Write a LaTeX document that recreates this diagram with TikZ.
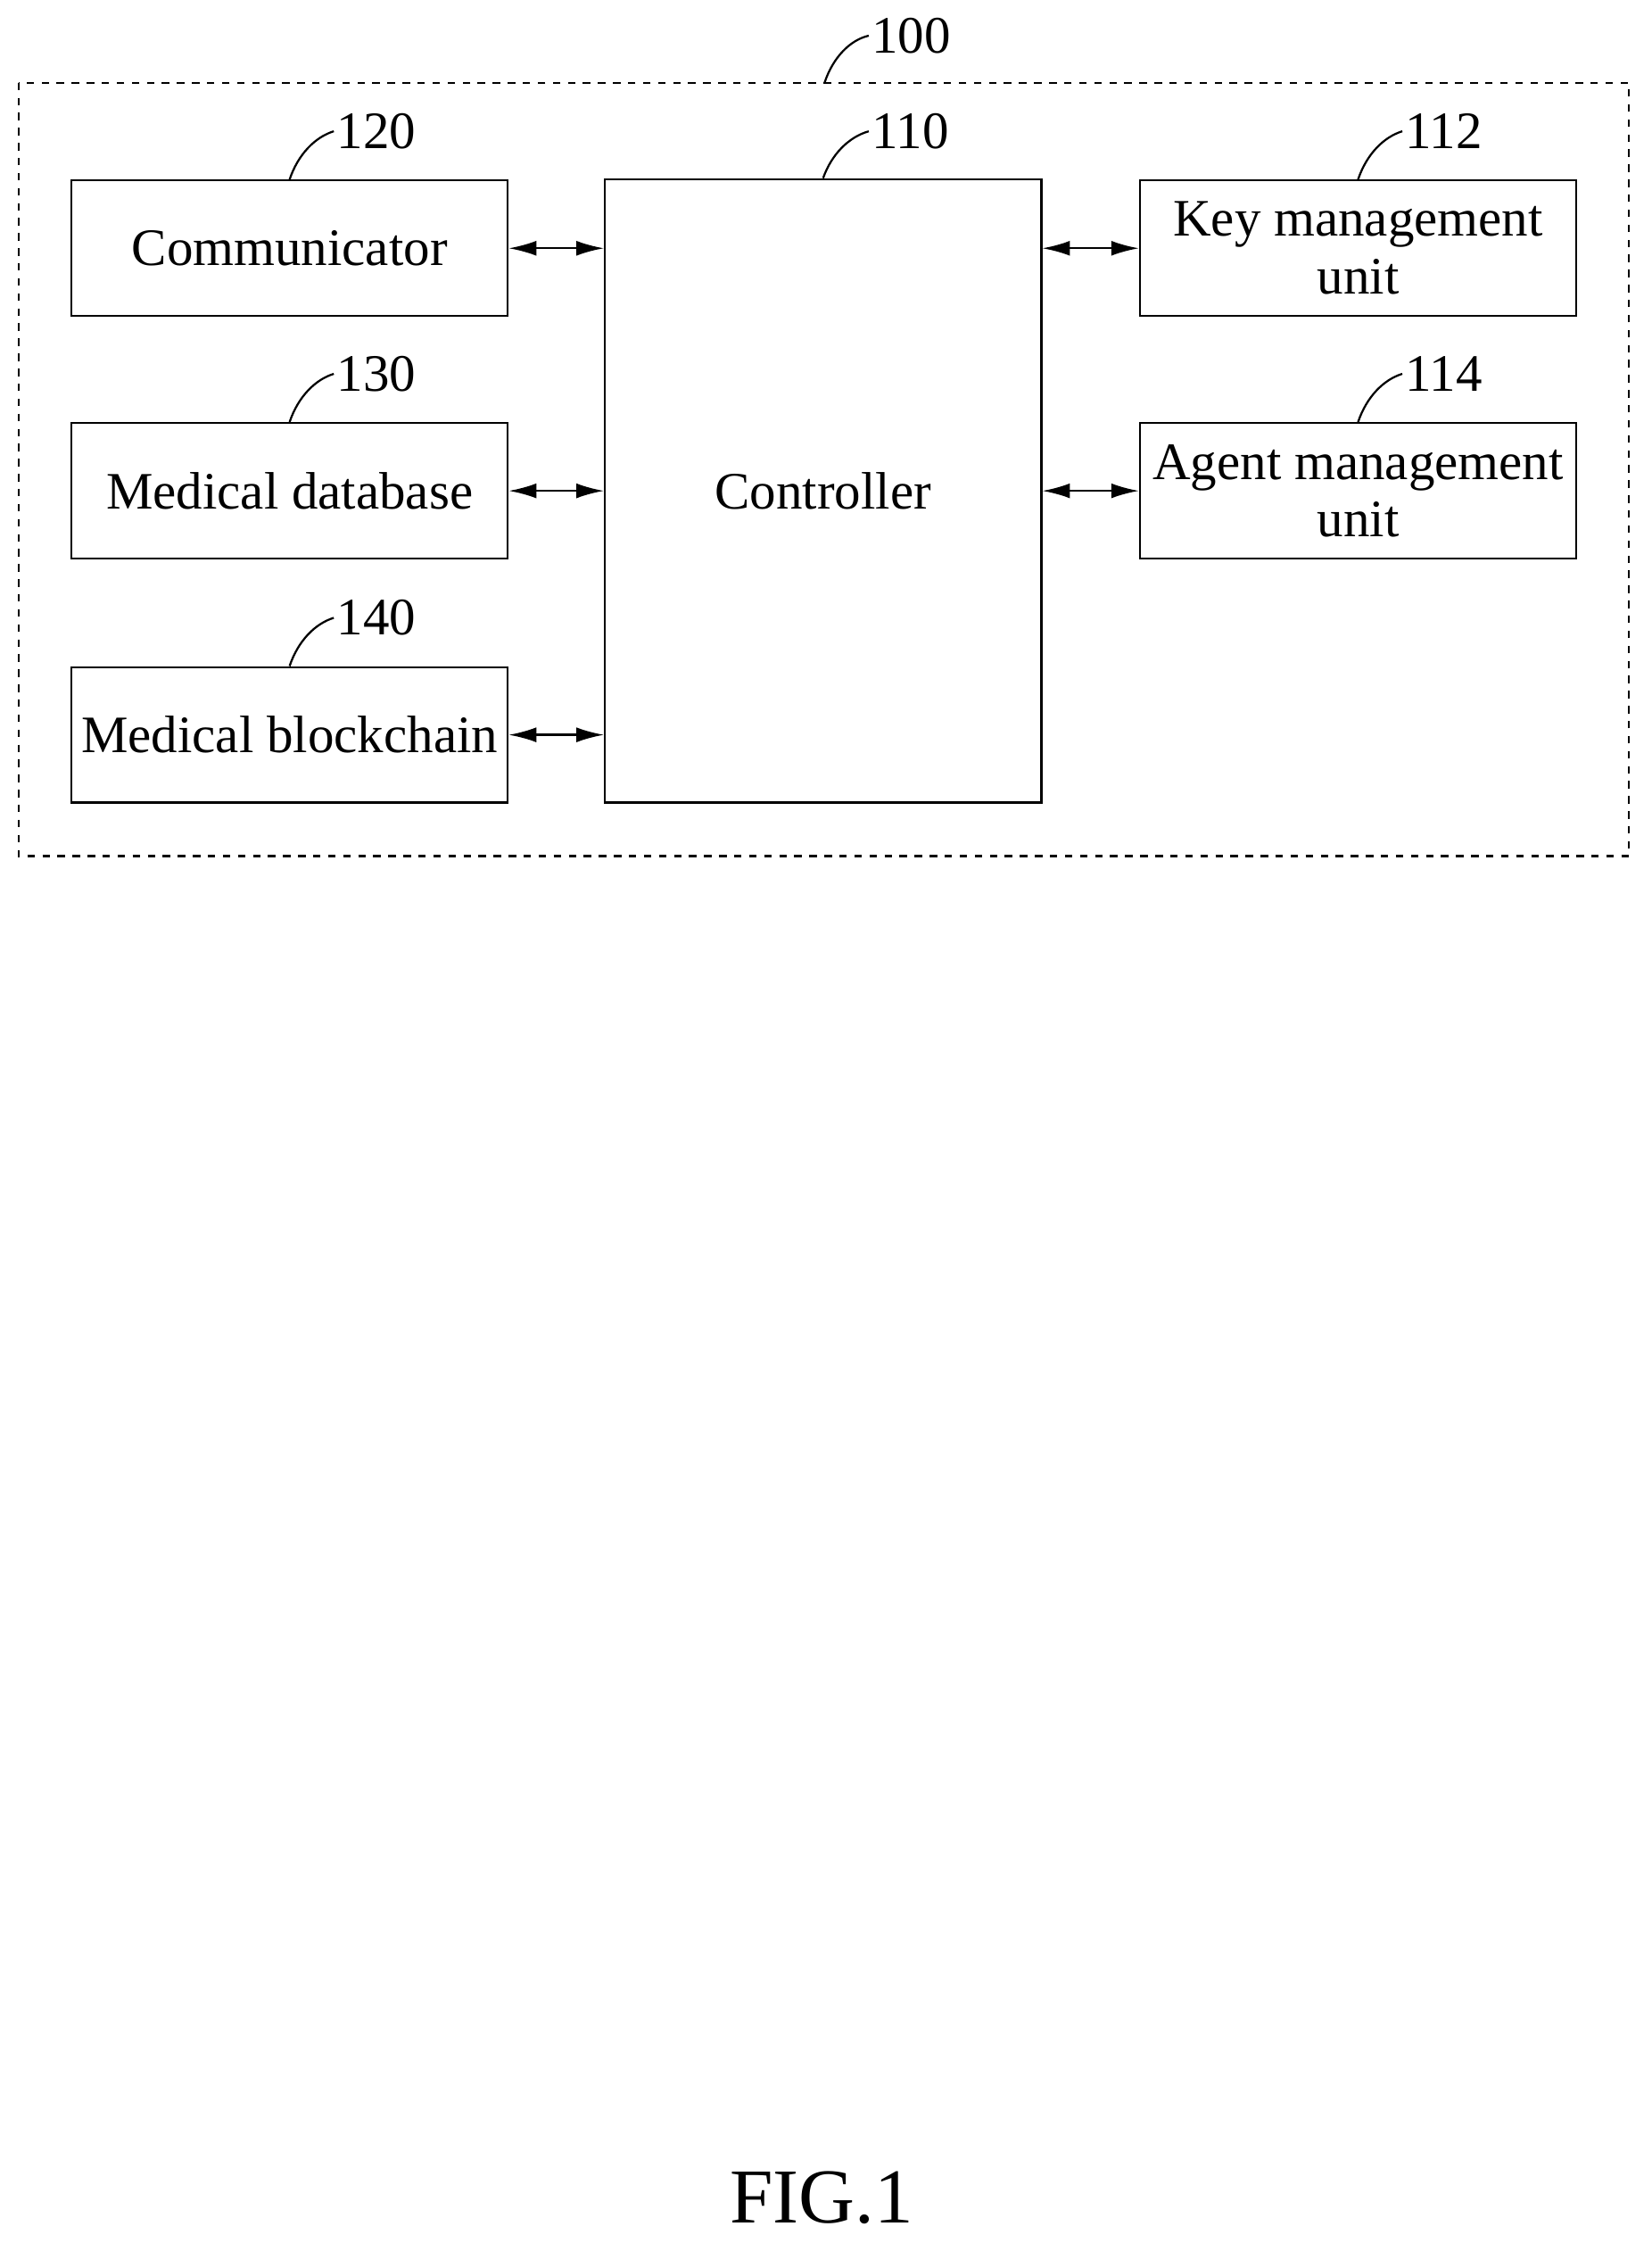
\documentclass[tikz,border=0pt]{standalone}
\usepackage{fontspec}
\setmainfont{Liberation Serif}
\usetikzlibrary{arrows.meta}

\tikzset{
	blk/.style={draw, thick, minimum width=6.12cm, minimum height=1.9cm, align=center, font=\fontsize{21}{23}\selectfont, inner sep=0pt},
	conn/.style={thick, {Latex[length=11pt,width=6pt]}-{Latex[length=11pt,width=6pt]}},
	lead/.style={thick},
	num/.style={font=\fontsize{21}{23}\selectfont, anchor=west, inner sep=1pt}
}

\begin{document}
\begin{tikzpicture}[x=0.02cm, y=-0.02cm]
	\useasboundingbox (0,0) rectangle (1158,1572);
	% outer frame
	\draw[thick, dashed] (13,58) rectangle (1142,600);

	\node[blk] (comm) at (203,174) {Communicator};
	\node[blk] (db) at (203,344) {Medical database};
	\node[blk] (chain) at (203,515) {Medical blockchain};
	\node[blk, minimum height=8.74cm] (ctrl) at (577,344) {Controller};
	\node[blk] (key) at (952,174) {Key management\\unit};
	\node[blk] (agent) at (952,344) {Agent management\\unit};

	\draw[conn] (comm.east) -- (comm.east -| ctrl.west);
	\draw[conn] (db.east) -- (db.east -| ctrl.west);
	\draw[conn] (chain.east) -- (chain.east -| ctrl.west);
	\draw[conn] (key.west) -- (key.west -| ctrl.east);
	\draw[conn] (agent.west) -- (agent.west -| ctrl.east);

	% reference numbers
	\coordinate (frametop) at (578,58);
	\node[num] (n100) at (609,25) {100};
	\node[num] (n120) at (234,92) {120};
	\node[num] (n130) at (234,262) {130};
	\node[num] (n140) at (234,433) {140};
	\node[num] (n110) at (609,92) {110};
	\node[num] (n112) at (983,92) {112};
	\node[num] (n114) at (983,262) {114};
	\draw[lead] (frametop) .. controls (584,40) and (596,28) .. (n100.west);
	\draw[lead] (comm.north) .. controls (209,108) and (221,96) .. (n120.west);
	\draw[lead] (db.north) .. controls (209,278) and (221,266) .. (n130.west);
	\draw[lead] (chain.north) .. controls (209,449) and (221,437) .. (n140.west);
	\draw[lead] (ctrl.north) .. controls (583,108) and (595,96) .. (n110.west);
	\draw[lead] (key.north) .. controls (958,108) and (970,96) .. (n112.west);
	\draw[lead] (agent.north) .. controls (958,278) and (970,266) .. (n114.west);

	\node[font=\fontsize{31}{34}\selectfont] (fig) at (576,1540) {FIG.1};
\end{tikzpicture}
\end{document}
